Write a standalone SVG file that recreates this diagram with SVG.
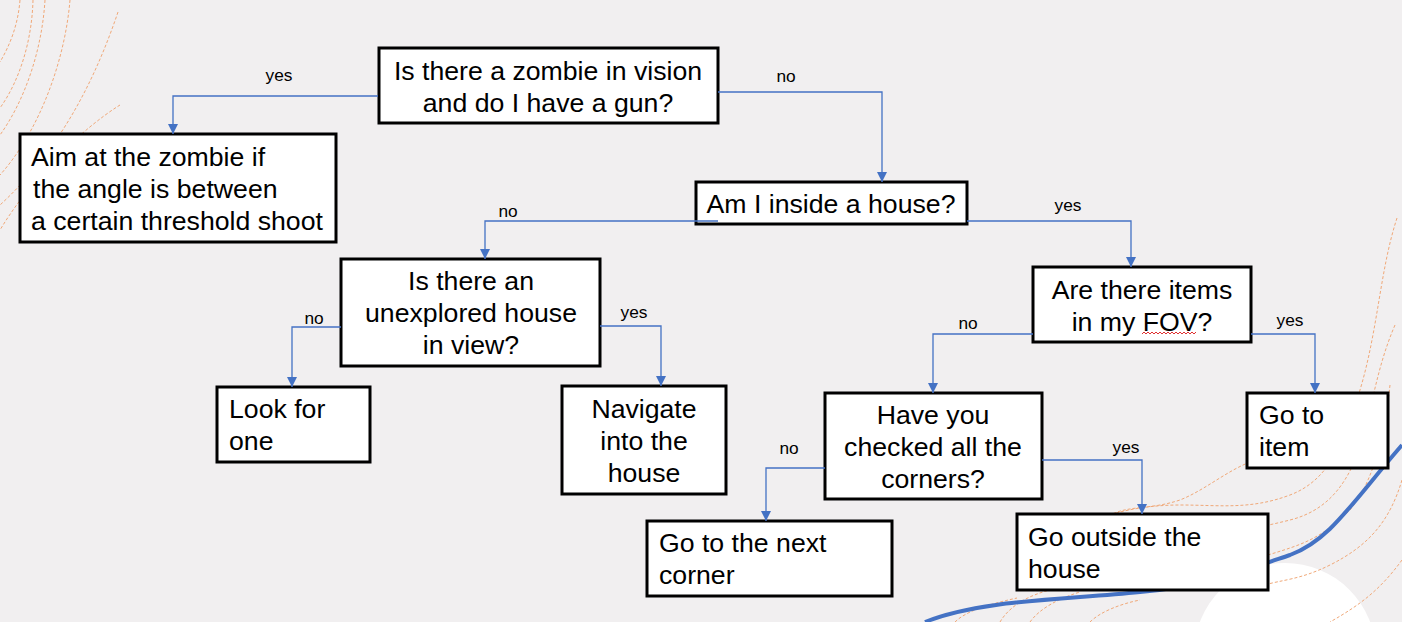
<svg xmlns="http://www.w3.org/2000/svg" width="1402" height="622" viewBox="0 0 1402 622">
<style>
.bg{fill:#f1eff0}
.deco{fill:none;stroke:#f0a878;stroke-width:1;stroke-dasharray:3 2}
.box{fill:#ffffff;stroke:#000000;stroke-width:3}
.t{font-family:"Liberation Sans",Arial,sans-serif;font-size:26.67px;fill:#000000}
.c{text-anchor:middle}
.lbl{font-family:"Liberation Sans",Arial,sans-serif;font-size:17.3px;fill:#000000;text-anchor:middle}
.conn{fill:none;stroke:#4472c4;stroke-width:1.3;marker-end:url(#arr)}
</style>
<defs>
<marker id="arr" markerUnits="userSpaceOnUse" markerWidth="10" markerHeight="10" refX="10" refY="5" orient="auto">
<path d="M0,0 L10,5 L0,10 z" fill="#4472c4"/>
</marker>
</defs>
<rect class="bg" x="0" y="0" width="1402" height="622"/>
<g id="background-decor">
<circle cx="1285" cy="654" r="91" fill="#ffffff"/>
<path class="deco" d="M20,0 C18,25 10,45 0,62"/>
<path class="deco" d="M33,0 C32,40 20,80 0,108"/>
<path class="deco" d="M45,0 C42,50 25,100 0,135"/>
<path class="deco" d="M70,0 C65,60 40,130 0,175"/>
<path class="deco" d="M118,12 C95,80 60,150 0,205"/>
<path class="deco" d="M120,105 C80,130 30,180 0,230"/>
<path class="deco" d="M1397,218 C1380,270 1378,330 1360,390 C1345,440 1330,480 1290,495 C1250,510 1220,505 1180,505 C1150,505 1120,510 1095,520"/>
<path class="deco" d="M1395,325 C1380,360 1375,390 1365,430 C1352,480 1330,510 1290,520 C1250,530 1215,535 1180,545"/>
<path class="deco" d="M1390,385 C1385,430 1375,480 1350,510 C1320,540 1300,545 1268,555"/>
<path class="deco" d="M1402,480 C1390,520 1370,545 1330,565 C1300,580 1280,580 1265,585"/>
<path class="deco" d="M1402,560 C1380,590 1360,605 1330,622"/>
<path class="deco" d="M1250,462 C1225,472 1205,490 1180,500 C1150,510 1130,505 1110,515"/>
<path class="deco" d="M1000,622 C1010,605 1030,595 1050,590"/>
<path class="deco" d="M1030,622 C1040,608 1060,598 1080,592"/>
<path class="deco" d="M1090,622 C1100,612 1120,604 1140,600"/>
<path class="deco" d="M955,622 C965,612 985,605 1017,598"/>
<path d="M925,622 C980,600 1060,600 1140,592 C1200,587 1240,572 1290,555 C1330,540 1350,505 1402,445" fill="none" stroke="#4472c4" stroke-width="4"/>
</g>
<g id="n1"><rect class="box" x="379" y="48" width="339" height="75"/>
<text class="t c" x="548" y="80">Is there a zombie in vision</text>
<text class="t c" x="548" y="112">and do I have a gun?</text></g>
<g id="n2"><rect class="box" x="20" y="134" width="316" height="108"/>
<text class="t" x="31" y="166">Aim at the zombie if</text>
<text class="t" x="33" y="198">the angle is between</text>
<text class="t" x="31" y="230">a certain threshold shoot</text></g>
<g id="n3"><rect class="box" x="696" y="182" width="271" height="42"/>
<text class="t c" x="831" y="213">Am I inside a house?</text></g>
<g id="n4"><rect class="box" x="341" y="259" width="259" height="107"/>
<text class="t c" x="471" y="290">Is there an</text>
<text class="t c" x="471" y="322">unexplored house</text>
<text class="t c" x="471" y="354">in view?</text></g>
<g id="n5"><rect class="box" x="217" y="387" width="153" height="75"/>
<text class="t" x="229" y="418">Look for</text>
<text class="t" x="229" y="450">one</text></g>
<g id="n6"><rect class="box" x="562" y="386" width="164" height="108"/>
<text class="t c" x="644" y="418">Navigate</text>
<text class="t c" x="644" y="450">into the</text>
<text class="t c" x="644" y="482">house</text></g>
<g id="n7"><rect class="box" x="1033" y="267" width="218" height="75"/>
<text class="t c" x="1142" y="299">Are there items</text>
<text class="t c" x="1142" y="331">in my FOV?</text>
<path d="M1142,334 l2,-2 l2,2 l2,-2 l2,2 l2,-2 l2,2 l2,-2 l2,2 l2,-2 l2,2 l2,-2 l2,2 l2,-2 l2,2 l2,-2 l2,2 l2,-2 l2,2 l2,-2 l2,2 l2,-2 l2,2 l2,-2 l2,2 l2,-2 l2,2 l2,-2" fill="none" stroke="#e03030" stroke-width="1"/></g>
<g id="n8"><rect class="box" x="1247" y="393" width="141" height="75"/>
<text class="t" x="1259" y="424">Go to</text>
<text class="t" x="1259" y="456">item</text></g>
<g id="n9"><rect class="box" x="825" y="393" width="217" height="106"/>
<text class="t c" x="933" y="424">Have you</text>
<text class="t c" x="933" y="456">checked all the</text>
<text class="t c" x="933" y="488">corners?</text></g>
<g id="n10"><rect class="box" x="647" y="521" width="245" height="75"/>
<text class="t" x="659" y="552">Go to the next</text>
<text class="t" x="659" y="584">corner</text></g>
<g id="n11"><rect class="box" x="1017" y="514" width="251" height="76"/>
<text class="t" x="1028" y="546">Go outside the</text>
<text class="t" x="1028" y="578">house</text></g>
<g id="connectors">
<path class="conn" d="M378,96 H173 V134"/>
<path class="conn" d="M718,92 H882 V182"/>
<path class="conn" d="M718,221 H485 V259"/>
<path class="conn" d="M967,221 H1131 V267"/>
<path class="conn" d="M341,327 H292 V387"/>
<path class="conn" d="M600,326 H661 V386"/>
<path class="conn" d="M1033,334 H933 V393"/>
<path class="conn" d="M1251,334 H1315 V393"/>
<path class="conn" d="M825,468 H766 V521"/>
<path class="conn" d="M1042,460 H1142 V514"/>
<text class="lbl" x="279" y="81">yes</text>
<text class="lbl" x="786" y="82">no</text>
<text class="lbl" x="508" y="217">no</text>
<text class="lbl" x="1068" y="211">yes</text>
<text class="lbl" x="314" y="324">no</text>
<text class="lbl" x="634" y="318">yes</text>
<text class="lbl" x="968" y="329">no</text>
<text class="lbl" x="1290" y="326">yes</text>
<text class="lbl" x="789" y="454">no</text>
<text class="lbl" x="1126" y="453">yes</text>
</g>
</svg>
